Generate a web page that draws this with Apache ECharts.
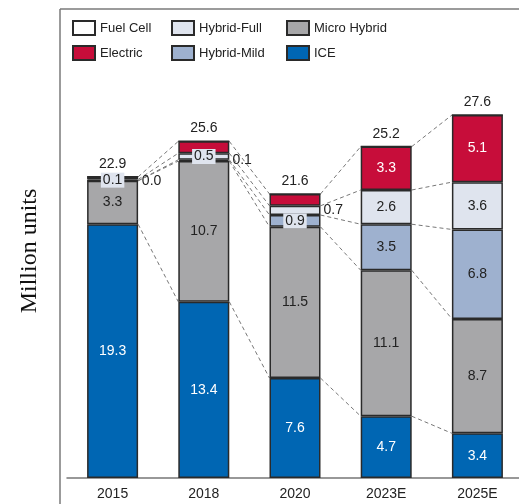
<!DOCTYPE html>
<html>
<head>
<meta charset="utf-8">
<script src="https://cdn.jsdelivr.net/npm/echarts@6/dist/echarts.min.js"></script>
<style>
  html, body { margin: 0; padding: 0; background: #fff; }
  #main { width: 519px; height: 504px; }
</style>
</head>
<body>
<div id="main"></div>
<script>
  // data (million units)
  var years = ['2015', '2018', '2020', '2023E', '2025E'];
  var ice = [19.3, 13.4, 7.6, 4.7, 3.4];
  var micro = [3.3, 10.7, 11.5, 11.1, 8.7];
  var mild = [0.0, 0.1, 0.9, 3.5, 6.8];
  var full = [0.1, 0.5, 0.7, 2.6, 3.6];
  var electric = [0.2, 0.9, 0.9, 3.3, 5.1];
  var fuelCell = [0, 0, 0, 0, 0];
  var totals = [22.9, 25.6, 21.6, 25.2, 27.6];

  // how the small values are labelled: 'in' = inside, 'box' = inside on a light box, 'right' = beside bar
  var mildLabel = ['right', 'right', 'box', 'in', 'in'];
  var fullLabel = ['box', 'box', 'right', 'in', 'in'];
  var elecLabel = ['none', 'none', 'none', 'in', 'in'];

  var BAR_W = 51;
  var FONT = 'Liberation Sans, Arial, sans-serif';

  var colors = {
    fuel: '#ffffff',
    electric: '#c70d3a',
    full: '#dfe4ee',
    mild: '#9eb1cf',
    micro: '#a7a7a9',
    ice: '#0066b3'
  };

  function itemsWithLabels(values, modes, textColor) {
    return values.map(function (v, i) {
      var m = modes ? modes[i] : 'in';
      var lab;
      if (m === 'none') {
        lab = { show: false };
      } else if (m === 'right') {
        lab = { show: true, position: 'right', distance: 3, color: '#222' };
      } else if (m === 'box') {
        lab = { show: true, position: 'inside', color: '#222',
                backgroundColor: '#dfe4ee', padding: [1, 2, 0, 2] };
      } else {
        lab = { show: true, position: 'inside', color: textColor };
      }
      return { value: v, label: lab };
    });
  }

  function barSeries(name, data, color) {
    return {
      name: name,
      type: 'bar',
      stack: 'total',
      barWidth: BAR_W,
      data: data,
      itemStyle: { color: color, borderColor: '#2a2a2a', borderWidth: 1.5 },
      label: {
        fontFamily: FONT,
        fontSize: 14,
        formatter: function (p) { return p.value.toFixed(1); }
      },
      emphasis: { disabled: true }
    };
  }

  var stackOrder = [ice, micro, mild, full, electric];

  var legendBase = {
    orient: 'vertical', top: 15, itemWidth: 22, itemHeight: 14, itemGap: 9,
    icon: 'rect', textStyle: { fontSize: 13, color: '#222' }, selectedMode: false
  };

  var chart = echarts.init(document.getElementById('main'));
  chart.setOption({
    animation: false,
    textStyle: { fontFamily: FONT },
    legend: [
      Object.assign({}, legendBase, { left: 67, data: ['Fuel Cell', 'Electric'] }),
      Object.assign({}, legendBase, { left: 166, data: ['Hybrid-Full', 'Hybrid-Mild'] }),
      Object.assign({}, legendBase, { left: 281, data: ['Micro Hybrid', 'ICE'] })
    ],
    grid: { left: 67, width: 456, top: 83.5, bottom: 26, containLabel: false,
            outerBoundsMode: 'none' },
    xAxis: {
      type: 'category',
      data: years,
      axisLine: { lineStyle: { color: '#777', width: 1.5 } },
      axisTick: { show: false },
      axisLabel: { fontSize: 14, color: '#222', margin: 9, fontFamily: FONT }
    },
    yAxis: {
      type: 'value',
      min: 0,
      max: 30,
      show: false
    },
    graphic: [
      { type: 'line', shape: { x1: 60, y1: 9, x2: 519, y2: 9 },
        style: { stroke: '#7a7a7a', lineWidth: 1.5 } },
      { type: 'line', shape: { x1: 60, y1: 9, x2: 60, y2: 504 },
        style: { stroke: '#7a7a7a', lineWidth: 1.5 } },
      { type: 'text', x: 30, y: 251, rotation: Math.PI / 2,
        style: { text: 'Million units', fontFamily: 'Liberation Serif, Times New Roman, serif',
                 fontSize: 24, fill: '#111', align: 'center', verticalAlign: 'middle' } }
    ],
    series: [
      barSeries('ICE', itemsWithLabels(ice, null, '#fff'), colors.ice),
      barSeries('Micro Hybrid', itemsWithLabels(micro, null, '#222'), colors.micro),
      barSeries('Hybrid-Mild', itemsWithLabels(mild, mildLabel, '#222'), colors.mild),
      barSeries('Hybrid-Full', itemsWithLabels(full, fullLabel, '#222'), colors.full),
      barSeries('Electric', itemsWithLabels(electric, elecLabel, '#fff'), colors.electric),
      barSeries('Fuel Cell', fuelCell.map(function (v, i) {
        return { value: v, label: { show: true, position: 'top', distance: 5, color: '#222',
                 formatter: totals[i].toFixed(1) } };
      }), colors.fuel),
      {
        // dashed connectors between segment boundaries of neighbouring bars
        type: 'custom',
        silent: true,
        data: years.slice(0, years.length - 1).map(function (y, i) { return [i]; }),
        encode: { x: 0 },
        renderItem: function (params, api) {
          var i = api.value(0);
          var children = [];
          var cumA = 0, cumB = 0;
          for (var k = 0; k < stackOrder.length; k++) {
            cumA += stackOrder[k][i];
            cumB += stackOrder[k][i + 1];
            var a = api.coord([i, cumA]);
            var b = api.coord([i + 1, cumB]);
            children.push({
              type: 'line',
              shape: { x1: a[0] + BAR_W / 2, y1: a[1], x2: b[0] - BAR_W / 2, y2: b[1] },
              style: { stroke: '#777', lineWidth: 1, lineDash: [4, 3] }
            });
          }
          return { type: 'group', children: children };
        },
        z: 1
      }
    ]
  });
</script>
</body>
</html>
